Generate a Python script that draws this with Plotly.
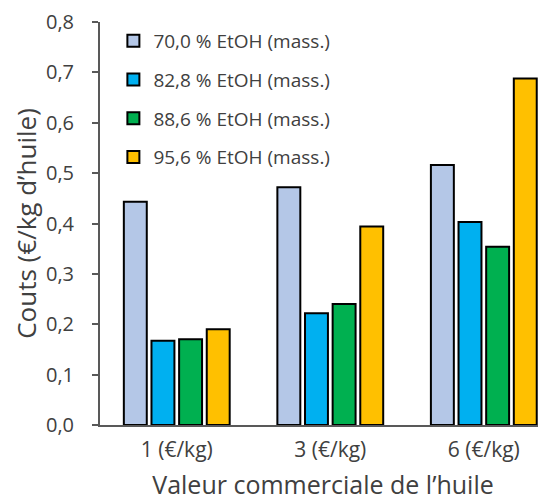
import plotly.graph_objects as go

categories = ["1 (€/kg)", "3 (€/kg)", "6 (€/kg)"]
series_names = ["70,0 % EtOH (mass.)", "82,8 % EtOH (mass.)", "88,6 % EtOH (mass.)", "95,6 % EtOH (mass.)"]
values_70 = [0.443, 0.472, 0.516]
values_82 = [0.167, 0.222, 0.403]
values_88 = [0.170, 0.240, 0.354]
values_95 = [0.190, 0.394, 0.688]
colors = ["#B4C7E7", "#00B0F0", "#00B050", "#FFC000"]
y_ticks = [0, 0.1, 0.2, 0.3, 0.4, 0.5, 0.6, 0.7, 0.8]
y_ticklabels = ["0,0", "0,1", "0,2", "0,3", "0,4", "0,5", "0,6", "0,7", "0,8"]

FONT = "Open Sans"
TXT = "#404040"

fig = go.Figure()
for i, (name, vals) in enumerate(zip(series_names, [values_70, values_82, values_88, values_95])):
    fig.add_trace(go.Bar(
        x=[0, 1, 2], y=vals, name=name,
        marker=dict(color=colors[i], line=dict(color="#000000", width=2)),
        legendgroup=f"g{i}",
    ))

# page body has an 8px default margin: figure sized/offset to compensate
fig.update_layout(
    width=538, height=493,
    margin=dict(l=92, r=0, t=14, b=76),
    plot_bgcolor="white", paper_bgcolor="white",
    barmode="group", bargap=0.28, bargroupgap=0.17,
    font=dict(family=FONT, color=TXT, size=18),
    showlegend=True,
    legend=dict(x=0.030, y=1.0, xanchor="left", yanchor="top",
                font=dict(size=19, color=TXT, family=FONT),
                tracegroupgap=11, bgcolor="rgba(0,0,0,0)",
                itemwidth=30),
    xaxis=dict(
        range=[-0.5, 2.405], tickmode="array", tickvals=[0, 1, 2], ticktext=categories,
        showline=True, linecolor="#595959", linewidth=2, ticks="", showgrid=False,
        zeroline=False, tickfont=dict(size=21, family=FONT, color=TXT), automargin=False,
        ticklabelstandoff=5,
        title=dict(text="Valeur commerciale de l’huile", font=dict(size=25, family=FONT, color=TXT)),
    ),
    yaxis=dict(
        range=[0, 0.8], tickmode="array", tickvals=y_ticks, ticktext=y_ticklabels,
        showline=True, linecolor="#595959", linewidth=2, ticks="outside", ticklen=6,
        tickcolor="#595959", tickwidth=1.5, showgrid=False, zeroline=False,
        tickfont=dict(size=20, family=FONT, color=TXT), automargin=True,
        ticklabelstandoff=14,
        title=dict(text="Couts (€/kg d’huile)", font=dict(size=26, family=FONT, color=TXT), standoff=16),
    ),
)

fig.write_html("out.html")
